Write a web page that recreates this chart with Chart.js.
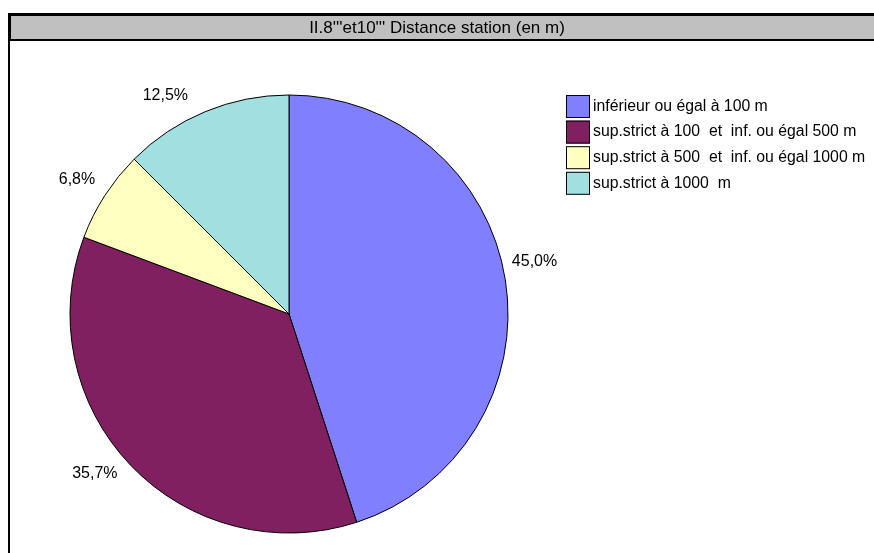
<!DOCTYPE html>
<html>
<head>
<meta charset="utf-8">
<script src="https://cdn.jsdelivr.net/npm/chart.js@4/dist/chart.umd.min.js"></script>
<style>
  html, body { margin: 0; padding: 0; background: #fff; }
  canvas { display: block; }
</style>
</head>
<body>
<canvas id="c" width="874" height="553"></canvas>
<script>
// Distance to the nearest station (share of answers, %)
const titleText = "II.8'''et10''' Distance station (en m)";
const categories = [
  "inférieur ou égal à 100 m",
  "sup.strict à 100  et  inf. ou égal 500 m",
  "sup.strict à 500  et  inf. ou égal 1000 m",
  "sup.strict à 1000  m"
];
const shares = [45.0, 35.7, 6.8, 12.5];
const sliceColors = ["#8080FF", "#802060", "#FFFFC0", "#A0E0E0"];
// angular nudge (degrees) applied to each outside label
const labelNudge = [-3, 4.4, -0.4, -7];

const FONT = "'Liberation Sans', Arial, sans-serif";

const framePlugin = {
  id: 'frame',
  beforeDraw(chart) {
    const ctx = chart.ctx;
    ctx.save();
    ctx.fillStyle = '#fff';
    ctx.fillRect(0, 0, chart.width, chart.height);
    // title bar
    ctx.fillStyle = '#C0C0C0';
    ctx.fillRect(9, 14, chart.width, 26);
    ctx.fillStyle = '#000';
    ctx.fillRect(8, 13, chart.width, 3);
    ctx.fillRect(8, 39, chart.width, 2);
    ctx.fillRect(8, 13, 3, 28);
    ctx.fillRect(8, 40, 2, chart.height);
    ctx.font = '17px ' + FONT;
    ctx.fillStyle = '#000';
    ctx.textAlign = 'center';
    ctx.textBaseline = 'middle';
    ctx.fillText(titleText, 437, 28);
    ctx.restore();
  },
  afterDatasetsDraw(chart) {
    const ctx = chart.ctx;
    const meta = chart.getDatasetMeta(0);
    ctx.save();
    ctx.font = '16px ' + FONT;
    ctx.fillStyle = '#000';
    ctx.textAlign = 'center';
    ctx.textBaseline = 'middle';
    meta.data.forEach((arc, i) => {
      const p = arc.getProps(['x', 'y', 'startAngle', 'endAngle', 'outerRadius'], true);
      const mid = (p.startAngle + p.endAngle) / 2 + labelNudge[i] * Math.PI / 180;
      const d = p.outerRadius + 32;
      const lx = p.x + Math.cos(mid) * d;
      const ly = p.y + Math.sin(mid) * d;
      ctx.fillText(shares[i].toFixed(1).replace('.', ',') + '%', lx, ly);
    });
    // legend
    const lx0 = 566, ly0 = 95, pitch = 25.6, bw = 24, bh = 23;
    ctx.font = '15.8px ' + FONT;
    ctx.textAlign = 'left';
    categories.forEach((name, i) => {
      const y = ly0 + i * pitch;
      ctx.fillStyle = sliceColors[i];
      ctx.fillRect(lx0, y, bw, bh);
      ctx.strokeStyle = '#000';
      ctx.lineWidth = 1;
      ctx.strokeRect(lx0 + 0.5, y + 0.5, bw - 1, bh - 1);
      ctx.fillStyle = '#000';
      ctx.fillText(name, 593, y + bh / 2);
    });
    ctx.restore();
  }
};

new Chart(document.getElementById('c'), {
  type: 'pie',
  data: {
    labels: categories,
    datasets: [{
      data: shares,
      backgroundColor: sliceColors,
      borderColor: '#000',
      borderWidth: 1,
      radius: 219
    }]
  },
  options: {
    responsive: false,
    animation: false,
    layout: { padding: { left: 60, right: 356, top: 85, bottom: 10 } },
    plugins: {
      legend: { display: false },
      title: { display: false },
      tooltip: { enabled: false }
    }
  },
  plugins: [framePlugin]
});
</script>
</body>
</html>
